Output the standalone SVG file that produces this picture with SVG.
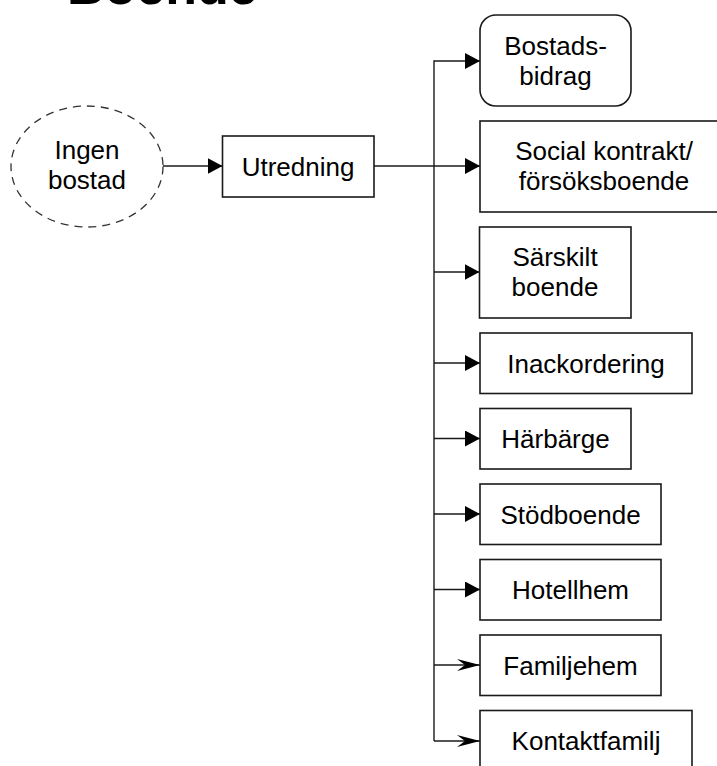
<svg xmlns="http://www.w3.org/2000/svg" width="717" height="766" viewBox="0 0 717 766">
<style>
.box{fill:#fff;stroke:#1a1a1a;stroke-width:1.6}
.dash{fill:#fff;stroke:#333;stroke-width:1.3;stroke-dasharray:8 6}
.t{font-family:"Liberation Sans",Arial,sans-serif;font-size:26px;fill:#000;text-anchor:middle}
.title{font-family:"Liberation Sans",Arial,sans-serif;font-size:52px;font-weight:bold;fill:#000}
.ln{fill:none;stroke:#1a1a1a;stroke-width:1.4}
</style>
<defs>
<marker id="af" viewBox="0 0 15 16" refX="15" refY="8" markerWidth="15" markerHeight="16" markerUnits="userSpaceOnUse" orient="auto">
<path d="M0,0 L15,8 L0,16 Z" fill="#000"/>
</marker>
<marker id="as" viewBox="0 0 23 12" refX="23" refY="6" markerWidth="23" markerHeight="12" markerUnits="userSpaceOnUse" orient="auto">
<path d="M0,0 L23,6 L0,12 L8,6 Z" fill="#000"/>
</marker>
</defs>
<text class="title" x="67" y="4">Boende</text>
<g id="connectors">
<path class="ln" d="M163,166 H222.5" marker-end="url(#af)"/>
<path class="ln" d="M374,166 H480" marker-end="url(#af)"/>
<path class="ln" d="M434,741 V61 H480" marker-end="url(#af)"/>
<path class="ln" d="M434,272 H479.5" marker-end="url(#af)"/>
<path class="ln" d="M434,363 H480" marker-end="url(#af)"/>
<path class="ln" d="M434,438.5 H480" marker-end="url(#af)"/>
<path class="ln" d="M434,514 H480" marker-end="url(#af)"/>
<path class="ln" d="M434,589.5 H480" marker-end="url(#af)"/>
<path class="ln" d="M434,665 H480" marker-end="url(#as)"/>
<path class="ln" d="M434,741 H480" marker-end="url(#as)"/>
</g>
<g id="ingen-bostad">
<ellipse class="dash" cx="87" cy="166.5" rx="76" ry="60.5"/>
<text class="t" x="87" y="159">Ingen</text>
<text class="t" x="87" y="189">bostad</text>
</g>
<g id="utredning">
<rect class="box" x="222.5" y="136" width="151.5" height="61"/>
<text class="t" x="298" y="176">Utredning</text>
</g>
<g id="bostadsbidrag">
<rect class="box" x="480" y="15" width="151" height="91" rx="16" ry="16"/>
<text class="t" x="555.5" y="55">Bostads-</text>
<text class="t" x="555.5" y="85">bidrag</text>
</g>
<g id="social-kontrakt">
<rect class="box" x="480" y="121" width="248" height="91"/>
<text class="t" x="604" y="160">Social kontrakt/</text>
<text class="t" x="604" y="190">försöksboende</text>
</g>
<g id="sarskilt-boende">
<rect class="box" x="479.5" y="227" width="151.5" height="91"/>
<text class="t" x="555" y="266">Särskilt</text>
<text class="t" x="555" y="296">boende</text>
</g>
<g id="inackordering">
<rect class="box" x="480" y="333" width="212" height="60.5"/>
<text class="t" x="586" y="372.5">Inackordering</text>
</g>
<g id="harbarge">
<rect class="box" x="480" y="408.5" width="151" height="60.5"/>
<text class="t" x="555.5" y="448">Härbärge</text>
</g>
<g id="stodboende">
<rect class="box" x="480" y="484" width="181" height="60.5"/>
<text class="t" x="570.5" y="523.5">Stödboende</text>
</g>
<g id="hotellhem">
<rect class="box" x="480" y="559.5" width="181" height="60.5"/>
<text class="t" x="570.5" y="599">Hotellhem</text>
</g>
<g id="familjehem">
<rect class="box" x="480" y="635" width="181" height="60.5"/>
<text class="t" x="570.5" y="674.5">Familjehem</text>
</g>
<g id="kontaktfamilj">
<rect class="box" x="480" y="710.5" width="212" height="60.5"/>
<text class="t" x="586" y="750">Kontaktfamilj</text>
</g>
</svg>
